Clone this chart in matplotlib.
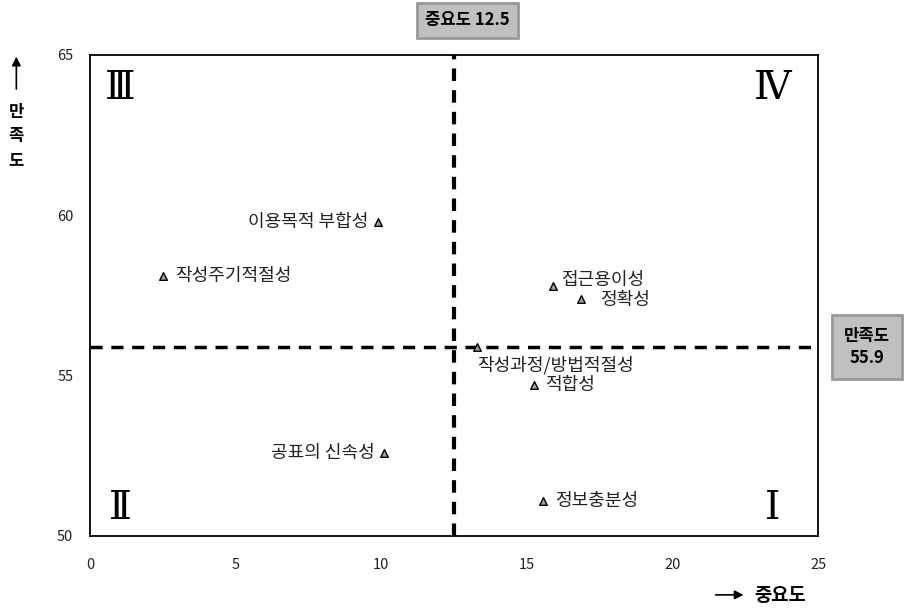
import matplotlib
matplotlib.use('Agg')
import matplotlib.pyplot as plt

plt.rcParams['font.family'] = ['Noto Sans CJK KR', 'DejaVu Sans']

# 항목별 중요도(x), 만족도(y)
labels = ['이용목적 부합성', '작성주기적절성', '접근용이성', '정확성',
          '작성과정/방법적절성', '적합성', '공표의 신속성', '정보충분성']
importance = [9.9, 2.5, 15.9, 16.85, 13.3, 15.25, 10.1, 15.55]
satisfaction = [59.8, 58.1, 57.8, 57.4, 55.9, 54.7, 52.6, 51.1]
# 라벨 위치 (offset points, ha)
offsets = [(-7, 0, 'right'), (9, 0, 'left'), (6, 4, 'left'), (14, -1, 'left'),
           (56, -13, 'center'), (8, 0, 'left'), (-7, 0, 'right'), (9, 0, 'left')]

imp_mean = 12.5
sat_mean = 55.9

fig = plt.figure(figsize=(9.08, 6.12), dpi=100)
ax = fig.add_axes([0.0991, 0.1242, 0.802, 0.786])

ax.scatter(importance, satisfaction, marker='^', s=30, c='#a0a0a0',
           edgecolors='black', linewidths=1, zorder=3)
for lab, x, y, (dx, dy, ha) in zip(labels, importance, satisfaction, offsets):
    ax.annotate(lab, (x, y), xytext=(dx, dy), textcoords='offset points',
                ha=ha, va='center', fontsize=13, color='#222222')

ax.axvline(imp_mean, color='black', lw=3, ls=(0, (3, 2.2)), zorder=2)
ax.axhline(sat_mean, color='black', lw=2.5, ls=(0, (3.5, 2.5)), zorder=2)

ax.set_xlim(0, 25)
ax.set_ylim(50, 65)
ax.set_xticks([0, 5, 10, 15, 20, 25])
ax.set_yticks([50, 55, 60, 65])
ax.tick_params(length=0, labelsize=10.5, colors='#222222')
ax.tick_params(axis='x', pad=16)
ax.tick_params(axis='y', pad=12)
for s in ax.spines.values():
    s.set_linewidth(1.3)

# 사분면 표시
quad = [('Ⅲ', 1.05, 63.95), ('Ⅳ', 23.45, 63.95), ('Ⅱ', 1.05, 50.85), ('Ⅰ', 23.45, 50.85)]
for q, x, y in quad:
    ax.text(x, y, q, fontsize=28, family=['DejaVu Serif', 'Noto Sans CJK KR'],
            ha='center', va='center')

fig.text(0.515, 0.967, '중요도 12.5', ha='center', va='center', fontsize=12,
         fontweight='bold',
         bbox=dict(boxstyle='square,pad=0.5', fc='#c0c0c0', ec='#999999', lw=2))
fig.text(0.955, 0.433, '만족도\n55.9', ha='center', va='center', fontsize=12,
         fontweight='bold', linespacing=1.3,
         bbox=dict(boxstyle='square,pad=0.7', fc='#c0c0c0', ec='#999999', lw=2))

# 축 제목
fig.text(0.831, 0.027, '중요도', ha='left', va='center', fontsize=13.5, fontweight='bold')
fig.add_artist(matplotlib.patches.FancyArrowPatch((0.785, 0.028), (0.822, 0.028),
               transform=fig.transFigure, arrowstyle='-|>', mutation_scale=13,
               color='black', lw=1.2))
for i, ch in enumerate('만족도'):
    fig.text(0.018, 0.817 - i * 0.039, ch, ha='center', va='center',
             fontsize=12, fontweight='bold')
fig.add_artist(matplotlib.patches.FancyArrowPatch((0.018, 0.85), (0.018, 0.912),
               transform=fig.transFigure, arrowstyle='-|>', mutation_scale=13,
               color='black', lw=1.2))

fig.savefig('out.png', dpi=100)
